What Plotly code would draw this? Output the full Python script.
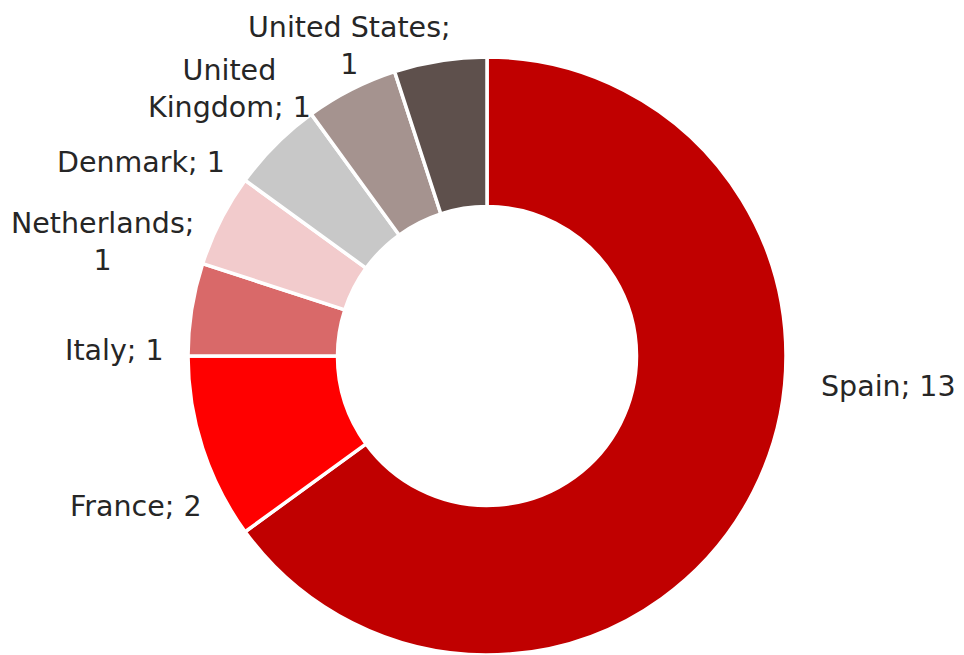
import plotly.graph_objects as go

# Countries and counts, in clockwise order from 12 o'clock
countries = ["Spain", "France", "Italy", "Netherlands", "Denmark",
             "United Kingdom", "United States"]
counts = [13, 2, 1, 1, 1, 1, 1]
colors = ["#C00000", "#FF0000", "#D96969", "#F2CBCC", "#C8C8C8",
          "#A5938F", "#5E504C"]

# How each label is broken over lines
label_breaks = {"Netherlands": "<br>", "United States": "<br>"}
name_breaks = {"United Kingdom": "United<br>Kingdom"}

# Label anchor points in pixels (centre of the text block)
label_px = [(888, 386), (136, 506), (114, 350), (102, 242), (141, 163),
            (229, 89), (349, 46)]

W, H = 964, 655
cx, cy, r = 487, 357, 299

fig = go.Figure(go.Pie(
    labels=countries,
    values=counts,
    sort=False,
    direction="clockwise",
    rotation=0,
    hole=0.5,
    marker=dict(colors=colors, line=dict(color="white", width=3.5)),
    textinfo="none",
    showlegend=False,
    domain=dict(x=[(cx - r) / W, (cx + r) / W], y=[0, 2 * r / H]),
))

for name, val, (px, py) in zip(countries, counts, label_px):
    shown = name_breaks.get(name, name)
    sep = label_breaks.get(name, " ")
    fig.add_annotation(
        x=px / W, y=1 - py / H, xref="paper", yref="paper",
        text=f"{shown};{sep}{val}" if sep == "<br>" else f"{shown}; {val}",
        showarrow=False, xanchor="center", yanchor="middle",
        font=dict(family="DejaVu Sans", size=28.5, color="#262626"),
    )

fig.update_layout(
    width=W, height=H,
    margin=dict(l=0, r=0, t=0, b=0),
    paper_bgcolor="white",
    plot_bgcolor="white",
)

fig.write_html("out.html")
